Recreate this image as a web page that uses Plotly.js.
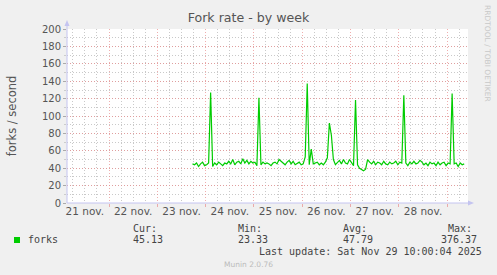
<!DOCTYPE html>
<html>
<head>
<meta charset="utf-8">
<script src="https://cdn.plot.ly/plotly-3.0.1.min.js"></script>
<style>
  html, body { margin: 0; padding: 0; background: #f0f0f0; }
  #chart { width: 497px; height: 275px; }
</style>
</head>
<body>
<div id="chart"></div>
<script>
// ---- data ----
const seriesName = 'forks';
const seriesStart = '2025-11-23 17:30';   // first sample
const seriesStepHours = 1;                 // sample spacing
const forkValues = [
  45,44,46,42,45,47,43,44,46,
  127,
  42,46,44,47,45,43,46,45,48,45,50,44,47,48,45,51,46,49,45,48,46,47,43,
  121,
  44,47,45,46,45,43,46,47,45,50,48,46,44,47,49,45,48,44,46,47,44,45,53,
  137.5,
  44,62,45,46,47,44,46,44,47,52,92,78,50,44,47,49,45,50,46,45,50,46,43,
  118.5,
  44,40,38,37,39,50,47,45,48,44,47,46,44,48,45,44,47,45,46,48,44,47,46,
  124,
  46,43,47,45,48,45,46,49,47,44,46,43,47,45,46,43,47,44,46,47,43,46,45,
  126,
  45,46,42,46,44,45
];
const xRange = ['2025-11-21 03:08', '2025-11-29 10:23'];
const dayLabelDates = ['2025-11-21 12:00','2025-11-22 12:00','2025-11-23 12:00','2025-11-24 12:00',
                       '2025-11-25 12:00','2025-11-26 12:00','2025-11-27 12:00','2025-11-28 12:00'];
const dayLabels = ['21 nov.','22 nov.','23 nov.','24 nov.','25 nov.','26 nov.','27 nov.','28 nov.'];
const yTicks = [0,20,40,60,80,100,120,140,160,180,200];
const statHeaders = ['Cur:','Min:','Avg:','Max:'];
const statValues = ['45.13','23.33','47.79','376.37'];
const lastUpdate = 'Last update: Sat Nov 29 10:00:04 2025';

// ---- build x positions from sample index ----
const t0 = new Date(seriesStart.replace(' ', 'T') + ':00Z').getTime();
const xs = forkValues.map((_, i) => {
  const d = new Date(t0 + i * seriesStepHours * 3600000);
  return d.toISOString().slice(0, 16).replace('T', ' ');
});

// ---- pixel helpers for decorations (plot area 67..468 x 29..203) ----
const PL = 67, PR = 468, PT = 29, PB = 203;
const px = v => (v - PL) / (PR - PL);
const py = v => (PB - v) / (PB - PT);

const GREEN = '#00cc00';
const MGRID = 'rgba(232,140,140,0.7)';
const mGRID = '#c9c9c9';
const DOTS = '1px,2px';
const AXIS = '#c4c4f0';
const mono = 'DejaVu Sans Mono';
const txt = '#444';

const traces = [
  { x: xs, y: forkValues, type: 'scatter', mode: 'lines', name: seriesName,
    line: { color: GREEN, width: 1.2 }, xaxis: 'x', yaxis: 'y', hoverinfo: 'skip', showlegend: false },
  { x: dayLabelDates, y: dayLabelDates.map(() => null), type: 'scatter', mode: 'lines',
    xaxis: 'x2', yaxis: 'y', hoverinfo: 'skip', showlegend: false }
];

const annotations = [];
const statX = [132, 236.5, 342, 446.5];
statHeaders.forEach((h, i) => annotations.push({
  text: h, xref: 'paper', yref: 'paper', x: px(statX[i]), y: py(228),
  xanchor: 'left', yanchor: 'middle', showarrow: false, borderpad: 0,
  font: { family: mono, size: 10, color: txt }
}));
const valX = [132, 236.5, 342, 477.5];
statValues.forEach((v, i) => annotations.push({
  text: v, xref: 'paper', yref: 'paper', x: px(valX[i]), y: py(239.5),
  xanchor: i === 3 ? 'right' : 'left', yanchor: 'middle', showarrow: false, borderpad: 0,
  font: { family: mono, size: 10, color: txt }
}));
annotations.push({
  text: seriesName, xref: 'paper', yref: 'paper', x: px(26.5), y: py(239.5),
  xanchor: 'left', yanchor: 'middle', showarrow: false, borderpad: 0,
  font: { family: mono, size: 10, color: txt }
});
annotations.push({
  text: lastUpdate, xref: 'paper', yref: 'paper', x: px(482.5), y: py(251.5),
  xanchor: 'right', yanchor: 'middle', showarrow: false, borderpad: 0,
  font: { family: mono, size: 10, color: txt }
});
annotations.push({
  text: 'Munin 2.0.76', xref: 'paper', yref: 'paper', x: px(248), y: py(264.5),
  xanchor: 'center', yanchor: 'middle', showarrow: false, borderpad: 0,
  font: { family: 'DejaVu Sans', size: 7.5, color: '#bbbbbb' }
});
annotations.push({
  text: 'RRDTOOL / TOBI OETIKER', xref: 'paper', yref: 'paper', x: px(488), y: py(53),
  xanchor: 'center', yanchor: 'middle', textangle: 90, showarrow: false, borderpad: 0,
  font: { family: 'DejaVu Sans', size: 7.5, color: '#c8c8c8' }
});

const shapes = [
  { type: 'line', xref: 'paper', yref: 'paper', x0: 0, x1: 0, y0: 0, y1: py(23),
    line: { color: AXIS, width: 1 } },
  { type: 'line', xref: 'paper', yref: 'paper', x0: 0, x1: px(471), y0: 0, y1: 0,
    line: { color: AXIS, width: 1 } },
  { type: 'path', xref: 'paper', yref: 'paper',
    path: `M ${px(67)} ${py(20)} L ${px(64.5)} ${py(26)} L ${px(69.5)} ${py(26)} Z`,
    fillcolor: AXIS, line: { width: 0 } },
  { type: 'path', xref: 'paper', yref: 'paper',
    path: `M ${px(474)} ${py(203)} L ${px(468)} ${py(200.5)} L ${px(468)} ${py(205.5)} Z`,
    fillcolor: AXIS, line: { width: 0 } },
  { type: 'rect', xref: 'paper', yref: 'paper', x0: px(14), x1: px(20), y0: py(243), y1: py(237),
    fillcolor: GREEN, line: { width: 0 } }
];

const layout = {
  width: 497, height: 275,
  margin: { l: PL, r: 497 - PR, t: PT, b: 275 - PB, pad: 0 },
  paper_bgcolor: '#f0f0f0',
  plot_bgcolor: '#ffffff',
  font: { family: 'DejaVu Sans', size: 10, color: '#555' },
  showlegend: false,
  title: { text: 'Fork rate - by week', xref: 'container', x: 0.5, xanchor: 'center',
           yref: 'container', y: 1 - 18 / 275, yanchor: 'middle',
           font: { family: 'DejaVu Sans', size: 12.6, color: '#555' } },
  xaxis: {
    type: 'date', range: xRange, fixedrange: true,
    tick0: '2025-11-22 00:00', dtick: 86400000,
    showticklabels: false, ticks: 'outside', ticklen: 3, tickcolor: MGRID,
    showgrid: true, gridcolor: MGRID, griddash: DOTS, gridwidth: 1,
    minor: { tick0: '2025-11-22 00:00', dtick: 21600000, showgrid: true, gridcolor: mGRID,
             griddash: DOTS, gridwidth: 1, ticks: '' },
    showline: false, zeroline: false
  },
  xaxis2: {
    type: 'date', range: xRange, overlaying: 'x', anchor: 'y', side: 'bottom', fixedrange: true,
    tickmode: 'array', tickvals: dayLabelDates, ticktext: dayLabels,
    showgrid: false, ticks: '', zeroline: false, showline: false,
    tickfont: { family: 'DejaVu Sans', size: 10.5, color: '#555' }
  },
  yaxis: {
    range: [0, 200.2], fixedrange: true,
    tickmode: 'array', tickvals: yTicks, ticktext: yTicks.map(String),
    ticks: 'outside', ticklen: 3, tickcolor: '#aaa',
    showgrid: true, gridcolor: MGRID, griddash: DOTS, gridwidth: 1,
    minor: { dtick: 10, showgrid: true, gridcolor: mGRID, griddash: DOTS, gridwidth: 1,
             ticks: 'outside', ticklen: 2, tickcolor: '#ccc' },
    zeroline: false, showline: false,
    tickfont: { family: 'DejaVu Sans', size: 10, color: '#555' },
    title: { text: 'forks / second', standoff: 22,
             font: { family: 'DejaVu Sans', size: 11.5, color: '#555' } }
  },
  annotations: annotations,
  shapes: shapes
};

Plotly.newPlot('chart', traces, layout, { staticPlot: true, displayModeBar: false });
</script>
</body>
</html>
